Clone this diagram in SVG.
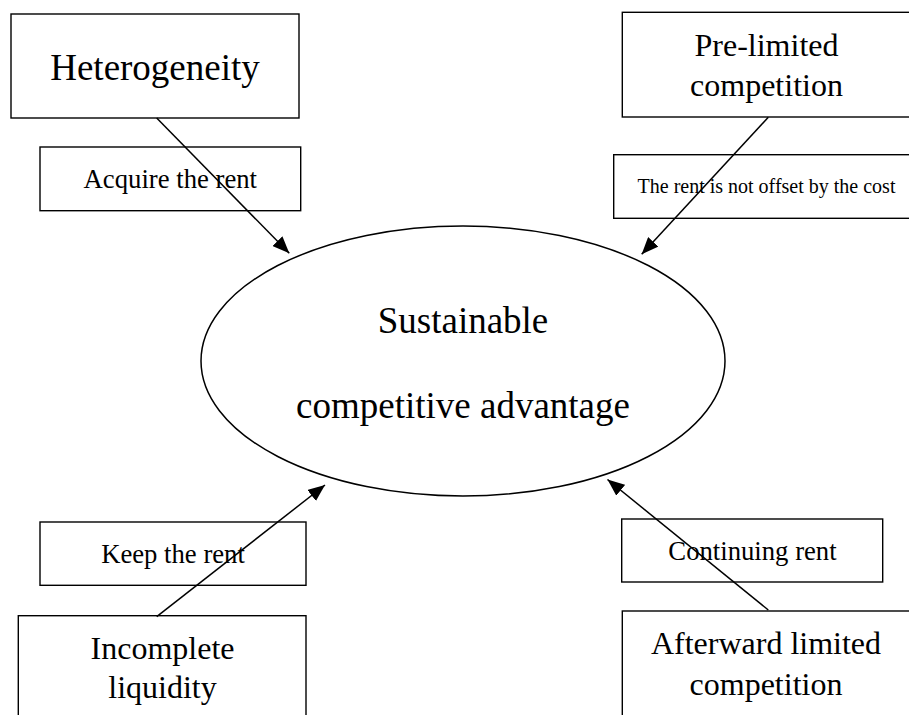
<svg xmlns="http://www.w3.org/2000/svg" width="909" height="715" viewBox="0 0 909 715">
  <style>
    .box { fill: #ffffff; stroke: #000000; stroke-width: 1.4; }
    .oval { fill: #ffffff; stroke: #000000; stroke-width: 1.5; }
    .link { fill: none; stroke: #000000; stroke-width: 1.5; marker-end: url(#head); }
    text { font-family: "Liberation Serif", "Times New Roman", serif; fill: #000000; text-anchor: middle; }
    .big { font-size: 37px; }
    .mid { font-size: 32px; }
    .lbl { font-size: 26.7px; }
    .sml { font-size: 20px; }
  </style>
  <defs>
    <marker id="head" viewBox="0 0 17 14" refX="17" refY="7" markerWidth="17" markerHeight="14" markerUnits="userSpaceOnUse" orient="auto">
      <path d="M0,0 L17,7 L0,14 z" fill="#000000"/>
    </marker>
  </defs>

  <!-- central outcome -->
  <g id="advantage">
    <ellipse class="oval" cx="463" cy="361" rx="262" ry="135"/>
    <text class="big" x="463" y="333">Sustainable</text>
    <text class="big" x="463" y="418">competitive advantage</text>
  </g>

  <!-- source factors -->
  <g id="heterogeneity">
    <rect class="box" x="11" y="14" width="288" height="104"/>
    <text class="big" x="155" y="80">Heterogeneity</text>
  </g>
  <g id="pre-limited">
    <rect class="box" x="622.3" y="12.3" width="300" height="104.7"/>
    <text class="mid" x="766.5" y="56">Pre-limited</text>
    <text class="mid" x="766.5" y="96">competition</text>
  </g>
  <g id="incomplete-liquidity">
    <rect class="box" x="18.3" y="615.7" width="287.7" height="120"/>
    <text class="mid" x="162.5" y="659">Incomplete</text>
    <text class="mid" x="162.5" y="698">liquidity</text>
  </g>
  <g id="afterward-limited">
    <rect class="box" x="622.3" y="611" width="300" height="120"/>
    <text class="mid" x="766" y="654">Afterward limited</text>
    <text class="mid" x="766" y="695">competition</text>
  </g>

  <!-- connectors -->
  <g id="connectors">
    <line class="link" x1="156.7" y1="118" x2="289.3" y2="253.3"/>
    <line class="link" x1="768.3" y1="117.3" x2="641.7" y2="254.3"/>
    <line class="link" x1="156.7" y1="616.7" x2="325" y2="485"/>
    <line class="link" x1="768.3" y1="610" x2="607.5" y2="479.5"/>
  </g>

  <!-- effect labels, drawn over the connectors with transparent fill -->
  <g id="label-acquire">
    <rect class="box" x="40" y="147" width="260.7" height="63.7" style="fill:none"/>
    <text class="lbl" x="170.3" y="188.3">Acquire the rent</text>
  </g>
  <g id="label-offset">
    <rect class="box" x="613.7" y="154.7" width="310" height="63.6" style="fill:none"/>
    <text class="sml" x="766.5" y="193">The rent is not offset by the cost</text>
  </g>
  <g id="label-keep">
    <rect class="box" x="40" y="522" width="266" height="63.3" style="fill:none"/>
    <text class="lbl" x="173" y="563.3">Keep the rent</text>
  </g>
  <g id="label-continuing">
    <rect class="box" x="621.7" y="519" width="261" height="63" style="fill:none"/>
    <text class="lbl" x="752.5" y="560">Continuing rent</text>
  </g>
</svg>
